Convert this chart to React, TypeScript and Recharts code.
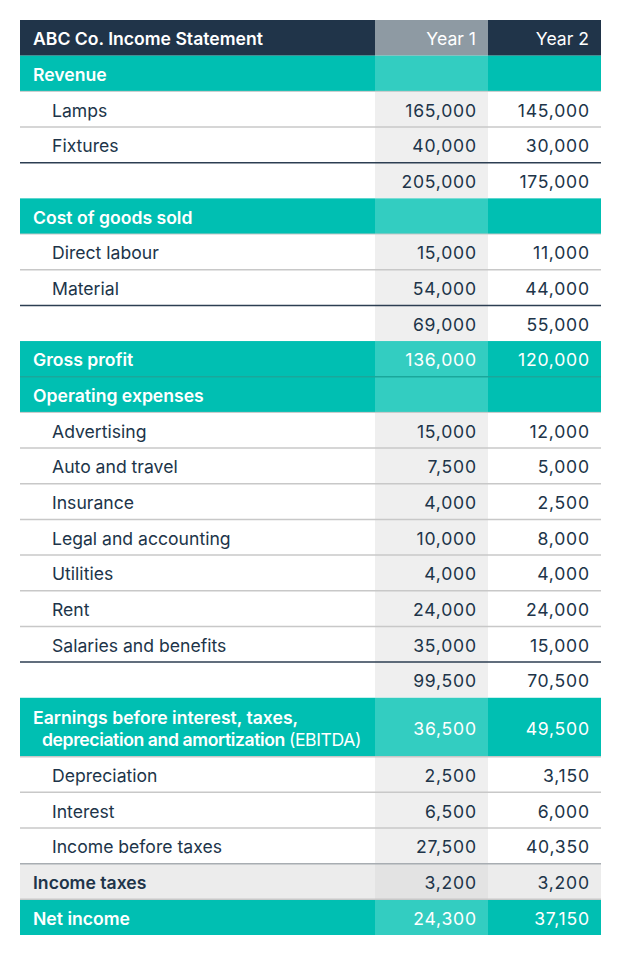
import React from 'react';
import { ComposedChart, XAxis, YAxis, ReferenceArea, ReferenceLine } from 'recharts';

const title = 'ABC Co. Income Statement';
const columnHeaders = ['Year 1', 'Year 2'];
const rowLabels = [
  'Revenue', 'Lamps', 'Fixtures', '',
  'Cost of goods sold', 'Direct labour', 'Material', '',
  'Gross profit',
  'Operating expenses', 'Advertising', 'Auto and travel', 'Insurance', 'Legal and accounting', 'Utilities', 'Rent', 'Salaries and benefits', '',
  'Earnings before interest, taxes,|depreciation and amortization (EBITDA)',
  'Depreciation', 'Interest', 'Income before taxes',
  'Income taxes', 'Net income',
];
const rowKinds = [
  'section', 'item', 'item', 'subtotal',
  'section', 'item', 'item', 'subtotal',
  'highlight',
  'section', 'item', 'item', 'item', 'item', 'item', 'item', 'item', 'subtotal',
  'highlight',
  'item', 'item', 'item',
  'taxes', 'highlight',
];
const year1 = [
  null, 165000, 40000, 205000,
  null, 15000, 54000, 69000,
  136000,
  null, 15000, 7500, 4000, 10000, 4000, 24000, 35000, 99500,
  36500,
  2500, 6500, 27500,
  3200, 24300,
];
const year2 = [
  null, 145000, 30000, 175000,
  null, 11000, 44000, 55000,
  120000,
  null, 12000, 5000, 2500, 8000, 4000, 24000, 15000, 70500,
  49500,
  3150, 6000, 40350,
  3200, 37150,
];

// ---- styling constants ----
const NAVY = '#203449';
const TEAL = '#00bfb2';
const TEAL_LIGHT = '#33cdc1';
const GRAY_COL = '#efefef';
const HEADER_GRAY = '#8e9aa3';
const TAX_BG = '#ececec';
const TAX_COL = '#e3e3e3';
const FONT = 'Inter, "Open Sans", sans-serif';
const FS = 17.6;
const NUM_LS = 0.75;

const TABLE_W = 581;
const COL_LABEL_END = 355;
const COL_Y1_END = 468;

type Row = { label: string; kind: string; v1: number | null; v2: number | null; y0: number; y1: number };

const rows: Row[] = [];
{
  let acc = 0;
  rows.push({ label: title, kind: 'header', v1: null, v2: null, y0: 0, y1: 1 });
  acc = 1;
  rowLabels.forEach((label, i) => {
    const u = label.includes('|') ? 1.65 : 1;
    rows.push({ label, kind: rowKinds[i], v1: year1[i], v2: year2[i], y0: acc, y1: acc + u });
    acc += u;
  });
}
const TOTAL_UNITS = rows[rows.length - 1].y1;

const fmt = (v: number | null) => (v == null ? '' : v.toLocaleString('en-US'));

function bgFor(kind: string, col: number) {
  if (kind === 'header') return col === 1 ? HEADER_GRAY : NAVY;
  if (kind === 'section' || kind === 'highlight') return col === 1 ? TEAL_LIGHT : TEAL;
  if (kind === 'taxes') return col === 1 ? TAX_COL : TAX_BG;
  return col === 1 ? GRAY_COL : '#ffffff';
}
function textColor(kind: string) {
  if (kind === 'header' || kind === 'section' || kind === 'highlight') return '#ffffff';
  return NAVY;
}

function makeShape(row: Row, col: number) {
  return (props: any) => {
    const { x, y, width, height } = props;
    const fill = bgFor(row.kind, col);
    const color = textColor(row.kind);
    const cy = y + height / 2 + 1;
    let content: React.ReactNode = null;
    if (col === 0) {
      const bold = row.kind !== 'item';
      const indent = row.kind === 'item' ? 32 : 13;
      if (row.label.includes('|')) {
        const [l1, l2] = row.label.split('|');
        const p = l2.indexOf('(');
        const main = p >= 0 ? l2.slice(0, p) : l2;
        const paren = p >= 0 ? l2.slice(p) : '';
        content = (
          <g>
            <text x={x + 13} y={cy - 11} fontFamily={FONT} fontSize={FS} fill={color} fontWeight={600} dominantBaseline="central">
              {l1}
            </text>
            <text x={x + 22} y={cy + 11} fontFamily={FONT} fontSize={FS} fill={color} letterSpacing={-0.4} dominantBaseline="central">
              <tspan fontWeight={600}>{main}</tspan>
              <tspan fontWeight={400}>{paren}</tspan>
            </text>
          </g>
        );
      } else if (row.label) {
        content = (
          <text x={x + indent} y={cy} fontFamily={FONT} fontSize={FS} fontWeight={bold ? 600 : 400} fill={color} dominantBaseline="central">
            {row.label}
          </text>
        );
      }
    } else {
      const isHeader = row.kind === 'header';
      const txt = isHeader ? columnHeaders[col - 1] : fmt(col === 1 ? row.v1 : row.v2);
      content = txt ? (
        <text
          x={x + width - 12 + (isHeader ? 0 : NUM_LS)}
          y={cy}
          textAnchor="end"
          fontFamily={FONT}
          fontSize={FS}
          fontWeight={400}
          letterSpacing={isHeader ? 0 : NUM_LS}
          fill={color}
          dominantBaseline="central"
        >
          {txt}
        </text>
      ) : null;
    }
    return (
      <g>
        <rect x={x} y={y} width={width} height={height} fill={fill} />
        {content}
      </g>
    );
  };
}

function lineFor(prev: Row, cur: Row): { color: string; w: number } | null {
  if (cur.kind === 'subtotal') return { color: '#2c3e52', w: 1.5 };
  if (cur.kind === 'taxes') return { color: '#a8adb2', w: 1.5 };
  if (cur.kind === 'section' && prev.kind === 'highlight') return { color: '#1aa79b', w: 1.5 };
  if (cur.kind === 'highlight' && prev.kind === 'taxes') return { color: '#c8c8c8', w: 1.5 };
  if (cur.kind === 'item' && prev.kind === 'item') return { color: '#c8c8c8', w: 1.5 };
  if (cur.kind === 'item' && prev.kind === 'highlight') return { color: '#c8c8c8', w: 1.5 };
  if (cur.kind === 'item' && prev.kind === 'section') return { color: '#c8c8c8', w: 1 };
  return null;
}

const colBounds: [number, number][] = [
  [0, COL_LABEL_END],
  [COL_LABEL_END, COL_Y1_END],
  [COL_Y1_END, TABLE_W],
];

export default function App() {
  return (
    <div style={{ width: 605, height: 945 }}>
      <ComposedChart
        width={605}
        height={945}
        data={rows}
        margin={{ top: 12, right: 12, bottom: 18, left: 12 }}
      >
        <XAxis type="number" dataKey="y0" domain={[0, TABLE_W]} allowDataOverflow hide />
        <YAxis type="number" domain={[0, TOTAL_UNITS]} allowDataOverflow reversed hide />
        {rows.map((row, ri) =>
          colBounds.map(([a, b], ci) => (
            <ReferenceArea
              key={`c-${ri}-${ci}`}
              x1={a}
              x2={b}
              y1={row.y0}
              y2={row.y1}
              ifOverflow="visible"
              shape={makeShape(row, ci)}
            />
          ))
        )}
        {rows.map((row, ri) => {
          if (ri === 0) return null;
          const l = lineFor(rows[ri - 1], row);
          if (!l) return null;
          return (
            <ReferenceLine key={`l-${ri}`} y={row.y0} stroke={l.color} strokeWidth={l.w} ifOverflow="visible" />
          );
        })}
      </ComposedChart>
    </div>
  );
}
